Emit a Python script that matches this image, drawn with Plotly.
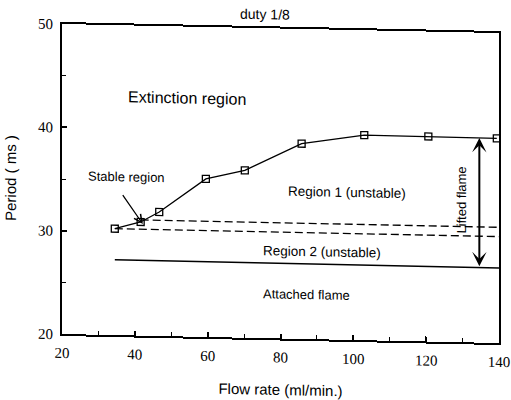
import plotly.graph_objects as go

# Boundary between region 1 and the extinction region (open squares)
flow = [34.5, 41.6, 46.7, 59.5, 70.2, 85.8, 103.0, 120.6, 139.4]
period = [30.3, 31.0, 32.0, 35.3, 36.2, 38.9, 39.85, 39.85, 39.8]

# Stable band edges (dashed)
upper_band_flow = [41.6, 140]
upper_band_period = [31.2, 31.2]
lower_band_flow = [34.5, 140]
lower_band_period = [30.3, 30.3]

# Attached / lifted flame boundary (solid)
attach_flow = [34.5, 140]
attach_period = [27.3, 27.25]

# Double arrow marking the lifted-flame range
lift_flow = 134.6
lift_span = [27.25, 39.8]

# Region labels
region_text = ["Extinction region", "Region 1 (unstable)", "Region 2 (unstable)", "Attached flame"]
region_flow = [54.3, 98.3, 91.4, 87.1]
region_period = [43.1, 34.3, 28.45, 24.3]
region_size = [16, 13.5, 13.5, 13]

x_ticks = [20, 40, 60, 80, 100, 120, 140]
y_ticks = [20, 30, 40, 50]

SANS = "Liberation Sans, Arial, sans-serif"
SERIF = "Liberation Serif, Times New Roman, serif"

fig = go.Figure()

fig.add_trace(go.Scatter(
    x=flow, y=period, mode="lines+markers",
    line=dict(color="black", width=1.3),
    marker=dict(symbol="square-open", size=7, color="black", line=dict(width=1.3)),
    cliponaxis=False, showlegend=False, hoverinfo="skip"))

for xs, ys in [(upper_band_flow, upper_band_period), (lower_band_flow, lower_band_period)]:
    fig.add_trace(go.Scatter(
        x=xs, y=ys, mode="lines",
        line=dict(color="black", width=1.3, dash="8px,4px"),
        showlegend=False, hoverinfo="skip"))

fig.add_trace(go.Scatter(
    x=attach_flow, y=attach_period, mode="lines",
    line=dict(color="black", width=1.5),
    showlegend=False, hoverinfo="skip"))

for txt, xv, yv, sz in zip(region_text, region_flow, region_period, region_size):
    fig.add_annotation(x=xv, y=yv, text=txt, showarrow=False,
                       font=dict(family=SANS, size=sz, color="black"))

# Lifted flame double-headed arrow and its label
fig.add_annotation(x=lift_flow, y=lift_span[1], ax=lift_flow, ay=lift_span[0],
                   xref="x", yref="y", axref="x", ayref="y", text="",
                   showarrow=True, arrowhead=3, startarrowhead=3, arrowside="end+start",
                   arrowsize=1.2, startarrowsize=1.2, arrowwidth=2, arrowcolor="black")
fig.add_annotation(x=129.8, y=33.8, text="Lifted flame", textangle=-90, showarrow=False,
                   font=dict(family=SANS, size=13, color="black"))

# Stable region pointer
fig.add_annotation(x=42.2, y=30.8, ax=36.4, ay=33.7,
                   xref="x", yref="y", axref="x", ayref="y", text="",
                   showarrow=True, arrowhead=5, arrowsize=1.2, arrowwidth=1.3,
                   arrowcolor="black")
fig.add_annotation(x=37.8, y=35.35, text="Stable region", showarrow=False,
                   font=dict(family=SANS, size=13, color="black"))

# Title
fig.add_annotation(x=0.465, y=1.045, xref="paper", yref="paper", text="duty 1/8",
                   showarrow=False, yanchor="middle",
                   font=dict(family=SANS, size=14, color="black"))

axis_common = dict(
    showline=True, linecolor="black", linewidth=2, mirror=True,
    ticks="inside", tickcolor="black", tickwidth=1.5, ticklen=5,
    showgrid=False, zeroline=False, automargin=False,
    tickfont=dict(family=SERIF, size=15, color="black"),
)

fig.update_xaxes(range=[20, 140], tickvals=x_ticks, ticktext=[str(v) for v in x_ticks],
                 minor=dict(dtick=10, ticks="inside", ticklen=4, tickcolor="black", tickwidth=1.2),
                 ticklabelstandoff=4,
                 title=dict(text="Flow rate (ml/min.)", standoff=20,
                            font=dict(family=SANS, size=15, color="black")),
                 **axis_common)
fig.update_yaxes(range=[20, 50], tickvals=y_ticks, ticktext=[str(v) for v in y_ticks],
                 minor=dict(dtick=5, ticks="inside", ticklen=4, tickcolor="black", tickwidth=1.2),
                 ticklabelstandoff=4,
                 title=dict(text="Period ( ms )", standoff=18,
                            font=dict(family=SANS, size=15, color="black")),
                 **axis_common)

fig.update_layout(
    template="none",
    width=511, height=400,
    margin=dict(l=62, r=12, t=28, b=62, autoexpand=False),
    paper_bgcolor="white", plot_bgcolor="white",
)

# Slight shear of the printed page; the outer div clips it so the page size is unchanged
post = ("document.documentElement.style.overflow='hidden';"
        "document.body.style.margin='0';"
        "document.body.style.overflow='hidden';"
        "var d=document.getElementById('{plot_id}');"
        "d.style.overflow='hidden';"
        "var c=d.firstElementChild;"
        "c.style.transformOrigin='255.5px 200px';"
        "c.style.transform='skewY(1.18deg)';")
fig.write_html("out.html", post_script=post)
